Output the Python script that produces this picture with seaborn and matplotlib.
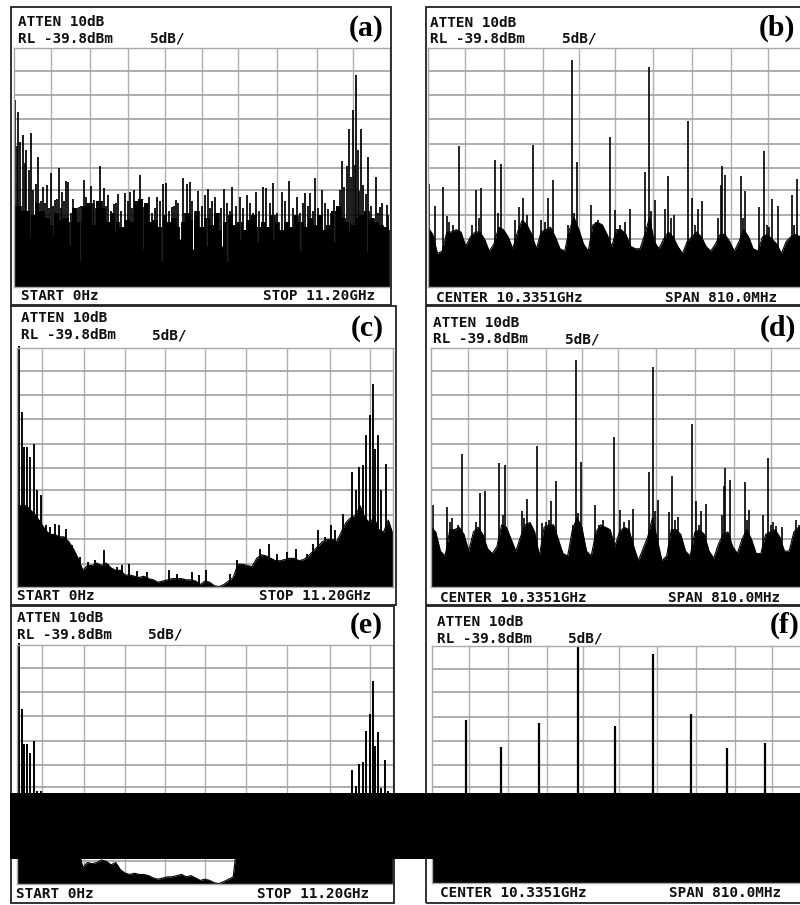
import numpy as np
import pandas as pd
import matplotlib
matplotlib.use("Agg")
import matplotlib.pyplot as plt
from matplotlib.patches import Rectangle
import seaborn as sns

# ---- trace data, x and level both in screen divisions (10 x 10, 5 dB/div) ----

# panel (a)
a_x = [0.04, 0.12, 0.18, 0.25, 0.34, 0.46, 0.53, 0.66, 0.78, 0.88, 1.0, 1.11, 1.21, 1.30, 1.40, 1.46, 1.58, 1.73, 1.86, 1.93,
       2.05, 2.14, 2.30, 2.41, 2.52, 2.67, 2.77, 2.96, 3.10, 3.20, 3.36, 3.47, 3.61, 3.81, 3.98, 4.05, 4.20, 4.31, 4.50, 4.60,
       4.69, 4.91, 5.09, 5.16, 5.35, 5.59, 5.81, 6.02, 6.19, 6.44, 6.64, 6.71, 6.90, 7.12, 7.33, 7.52, 7.74, 7.88, 8.01, 8.19,
       8.36, 8.50, 8.67, 8.72, 8.85, 8.92, 9.01, 9.10, 9.14, 9.22, 9.29, 9.42, 9.62, 9.73, 9.91,
       0.10, 0.30, 0.40, 0.60, 0.72, 0.83, 0.95, 1.06, 1.16, 1.26, 1.35, 1.52, 1.65, 1.80, 1.99, 2.10, 2.20, 2.35, 2.46, 2.58,
       2.72, 2.85, 3.03, 3.15, 3.28, 3.42, 3.54, 3.68, 3.75, 3.90, 4.12, 4.25, 4.38, 4.55, 4.75, 4.83, 5.00, 5.22, 5.28, 5.45,
       5.52, 5.68, 5.75, 5.90, 6.10, 6.27, 6.35, 6.52, 6.80, 7.00, 7.22, 7.42, 7.60, 7.68, 7.82, 7.95, 8.10, 8.28, 8.43, 8.58,
       8.78, 8.97, 9.06, 9.18, 9.35, 9.50, 9.68, 9.80, 9.96]
a_y = [7.81, 7.32, 6.07, 6.35, 5.72, 6.46, 4.04, 5.44, 4.18, 4.25, 4.78, 3.63, 4.98, 3.97, 4.42, 4.39, 3.70, 3.35, 4.49, 3.77,
       4.21, 3.63, 5.06, 4.16, 3.84, 3.49, 3.91, 3.93, 3.97, 4.07, 4.70, 3.35, 3.77, 3.77, 4.32, 4.35, 3.35, 3.63, 4.57, 4.32,
       4.39, 4.02, 3.84, 4.11, 3.77, 4.11, 4.18, 3.77, 3.84, 3.97, 4.18, 4.16, 4.35, 3.97, 4.42, 3.77, 3.93, 3.93, 4.56, 4.04,
       3.28, 3.63, 4.04, 5.26, 5.06, 6.62, 7.42, 8.86, 5.72, 6.62, 4.25, 5.44, 4.60, 3.35, 3.42,
       5.9, 5.2, 4.9, 4.3, 3.6, 3.5, 3.3, 3.4, 3.7, 3.3, 3.6, 3.1, 3.2, 3.4, 3.3, 3.5, 3.3, 3.6, 3.4, 3.2,
       3.5, 3.2, 3.6, 3.3, 3.1, 3.4, 3.5, 3.1, 3.3, 3.6, 3.2, 3.4, 3.5, 3.1, 3.6, 3.2, 3.4, 3.3, 3.6, 3.1,
       3.3, 3.5, 3.2, 3.4, 3.3, 3.5, 3.1, 3.2, 3.5, 3.1, 3.6, 3.3, 3.1, 3.5, 3.4, 3.2, 3.3, 3.5, 3.1, 3.4,
       4.2, 4.6, 5.1, 4.0, 3.9, 3.4, 3.1, 3.5, 3.0]
a_floor = [3.4, 3.4, 3.2, 3.2, 3.0, 3.5, 3.2, 2.9, 2.6, 3.1, 2.8, 2.9, 2.7, 3.3, 2.7, 3.4, 3.5, 2.6, 3.6, 3.3,
           2.7, 3.1, 2.7, 2.5, 2.8, 2.7, 3.6, 3.7, 3.5, 2.7, 2.8, 2.5, 3.0, 2.7, 2.9, 2.5, 2.7, 3.1, 2.8, 3.2,
           2.5, 2.9, 2.6, 3.1, 2.4, 2.7, 3.0, 2.6, 2.7, 2.4, 2.8, 3.0, 2.5, 2.7, 2.5, 3.0, 2.7, 2.4, 2.7, 2.5,
           3.0, 2.7, 2.5, 2.9, 2.6, 3.0, 2.4, 2.6, 3.2, 3.4, 2.9, 2.7, 2.6, 2.9, 3.0, 3.2, 2.9, 2.7, 2.6, 2.5, 2.4]
# narrow white slivers that reach down into the trace in (a)
a_dip_x = [0.44, 1.06, 1.49, 1.77, 2.70, 3.45, 3.94, 4.42, 4.78, 5.13, 5.53, 5.66, 6.02, 6.50, 6.90, 7.61, 8.50, 8.90, 9.38]
a_dip_y = [2.1, 2.2, 1.75, 1.1, 2.3, 1.6, 1.1, 2.0, 1.6, 1.7, 1.7, 1.1, 2.0, 1.9, 2.0, 1.5, 1.9, 2.3, 1.5]

# panel (b)
b_x = [0.03, 0.19, 0.40, 0.51, 0.81, 1.28, 1.40, 1.78, 1.93, 2.30, 2.42, 2.53, 2.79, 3.01, 3.17, 3.31, 3.81, 3.94, 4.32, 4.83,
       4.97, 5.35, 5.75, 5.87, 6.02, 6.28, 6.37, 6.52, 6.89, 7.01, 7.15, 7.28, 7.76, 7.79, 7.89, 8.29, 8.42, 8.79, 8.90, 9.13,
       9.29, 9.65, 9.80,
       0.56, 0.66, 1.18, 1.34, 1.86, 2.62, 3.10, 3.72, 3.87, 4.45, 4.52, 4.60, 5.10, 5.22, 5.92, 6.45, 7.08, 7.70, 8.35, 8.98, 9.05, 9.72]
b_y = [4.31, 3.38, 4.18, 2.96, 5.89, 4.04, 4.14, 5.33, 5.15, 2.82, 3.35, 3.72, 5.96, 2.82, 3.72, 4.46, 9.51, 5.23, 3.44, 6.26,
       3.24, 3.26, 4.81, 9.21, 3.65, 3.28, 4.66, 3.0, 6.93, 3.72, 3.28, 3.58, 4.28, 5.08, 4.70, 4.63, 4.03, 3.33, 5.70, 3.70,
       3.38, 3.86, 4.53,
       2.7, 2.6, 2.6, 2.9, 3.1, 3.0, 2.7, 2.6, 3.1, 2.7, 2.8, 2.6, 2.6, 2.7, 3.2, 2.9, 2.6, 2.9, 2.9, 2.6, 2.5, 2.6]
b_floor = [2.5, 2.2, 1.4, 1.5, 2.3, 2.3, 2.4, 2.3, 1.7, 2.1, 2.3, 2.3, 2.0, 1.5, 1.8, 2.5, 2.4, 2.1, 1.6, 2.3,
           2.8, 2.6, 2.2, 1.6, 2.3, 2.4, 2.5, 2.1, 1.6, 1.5, 2.4, 2.9, 2.4, 1.8, 1.5, 2.6, 2.7, 2.6, 2.2, 1.7,
           2.4, 2.4, 2.2, 1.7, 1.6, 1.6, 2.2, 2.9, 1.9, 1.6, 2.0, 2.3, 2.1, 1.7, 1.4, 1.9, 2.1, 2.3, 2.1, 1.7,
           1.5, 1.8, 2.2, 2.2, 1.9, 1.5, 1.9, 2.4, 2.1, 1.6, 1.5, 2.1, 2.2, 2.0, 1.8, 1.4, 1.9, 2.1, 2.2, 2.1, 2.0]

# panel (c)
c_x = [0.06, 0.12, 0.19, 0.27, 0.34, 0.46, 0.53, 0.64, 0.77, 0.88, 1.02, 1.13, 1.30, 1.46, 1.68, 1.88, 2.08, 2.32, 2.43, 2.65,
       2.79, 2.99, 3.19, 3.45, 4.04, 4.25, 4.65, 4.84, 5.02, 5.66, 5.86, 6.46, 6.71, 6.92, 7.17, 7.43, 7.70, 7.88, 8.01, 8.19,
       8.36, 8.45, 8.67, 8.91, 9.01, 9.09, 9.19, 9.29, 9.38, 9.47, 9.52, 9.60, 9.69, 9.81, 9.93]
c_y = [10.1, 7.32, 5.86, 5.86, 5.44, 6.0, 4.04, 3.84, 2.58, 2.51, 2.62, 2.58, 2.44, 1.74, 1.26, 1.05, 1.14, 1.53, 0.98, 0.84,
       0.91, 0.98, 0.67, 0.63, 0.70, 0.56, 0.63, 0.49, 0.70, 0.56, 1.14, 1.60, 1.81, 1.39, 1.46, 1.60, 1.39, 1.81, 2.37, 2.09,
       2.58, 2.37, 3.07, 4.81, 4.04, 5.02, 5.09, 6.37, 7.18, 8.51, 5.79, 6.35, 4.04, 5.16, 2.44]
c_floor = [3.4, 3.4, 3.4, 3.2, 3.0, 2.7, 2.4, 2.2, 2.2, 2.1, 2.1, 1.9, 1.6, 1.2, 0.7, 0.9, 0.9, 1.0, 0.9, 1.0,
           0.8, 0.7, 0.7, 0.5, 0.5, 0.45, 0.4, 0.45, 0.35, 0.3, 0.2, 0.25, 0.3, 0.35, 0.35, 0.35, 0.3, 0.3, 0.25, 0.1,
           0.25, 0.2, 0.05, 0.02, 0.1, 0.25, 0.4, 0.95, 0.95, 0.9, 0.85, 1.2, 1.35, 1.3, 1.2, 1.1, 1.1, 1.15, 1.2, 1.2,
           1.1, 1.15, 1.3, 1.5, 1.7, 1.9, 2.0, 2.0, 1.9, 2.3, 2.7, 2.9, 3.0, 3.4, 2.9, 2.7, 2.9, 2.4, 2.3, 2.8, 2.2]

# panel (d)
d_x = [0.04, 0.42, 0.82, 1.30, 1.42, 1.81, 1.96, 2.42, 2.55, 2.81, 2.94, 3.19, 3.32, 3.84, 3.97, 4.34, 4.85, 5.00, 5.37, 5.77,
       5.88, 6.02, 6.30, 6.40, 6.54, 6.91, 7.03, 7.16, 7.29, 7.77, 7.81, 7.92, 8.32, 8.43, 8.81, 8.93, 9.16, 9.31, 9.68,
       0.50, 0.56, 0.72, 1.20, 1.90, 2.48, 3.05, 3.12, 3.76, 3.90, 4.45, 4.55, 5.12, 5.25, 5.95, 6.48, 7.10, 7.72, 8.38, 9.02, 9.08, 9.75]
d_y = [3.42, 3.35, 5.56, 3.93, 4.03, 5.19, 5.12, 3.17, 3.70, 5.89, 2.68, 3.58, 4.45, 9.50, 5.23, 3.44, 6.26, 3.21, 3.26, 4.81,
       9.21, 3.63, 3.14, 4.63, 2.93, 6.82, 3.58, 3.17, 3.47, 4.24, 4.98, 4.49, 4.39, 3.24, 3.03, 5.40, 2.54, 2.51, 2.82,
       2.7, 2.9, 2.6, 2.7, 3.0, 2.9, 2.7, 2.8, 2.6, 3.1, 2.6, 2.8, 2.7, 2.8, 3.2, 2.8, 2.6, 3.0, 2.8, 2.6, 2.7, 2.6]
d_floor = [2.5, 2.3, 1.5, 1.3, 2.4, 2.4, 2.5, 2.2, 1.5, 2.3, 2.5, 2.2, 1.6, 1.4, 1.7, 2.6, 2.5, 2.0, 1.5, 2.1,
           2.6, 2.7, 2.3, 1.3, 2.5, 2.6, 2.6, 2.0, 1.4, 1.3, 2.4, 2.9, 2.5, 1.5, 1.3, 2.3, 2.6, 2.5, 2.4, 1.7,
           2.3, 2.5, 2.4, 1.7, 1.1, 1.6, 2.1, 2.9, 2.0, 1.1, 1.3, 2.4, 2.4, 2.2, 1.5, 1.3, 2.3, 2.4, 2.2, 1.5,
           1.2, 1.8, 2.2, 2.3, 1.7, 1.4, 2.0, 2.4, 2.0, 1.4, 1.4, 2.2, 2.3, 2.4, 2.1, 1.5, 1.5, 2.3, 2.5, 2.4, 2.3]

# panel (e)
e_x = [0.02, 0.06, 0.12, 0.19, 0.27, 0.34, 0.46, 0.53, 0.64, 8.92, 9.01, 9.09, 9.20, 9.29, 9.38, 9.47, 9.52, 9.59, 9.69, 9.80, 9.87]
e_y = [7.36, 10.08, 7.32, 5.86, 5.86, 5.48, 5.99, 3.9, 3.9, 4.78, 4.08, 5.04, 5.09, 6.39, 7.11, 8.48, 5.76, 6.36, 4.0, 5.17, 3.9]
e_floor = [2.5, 2.5, 2.5, 2.5, 2.5, 2.5, 2.5, 2.5, 2.5, 2.5, 2.5, 2.5, 2.0, 1.5, 0.7, 0.9, 0.85, 0.9, 1.0, 0.95,
           0.8, 0.9, 0.6, 0.45, 0.4, 0.45, 0.4, 0.4, 0.35, 0.25, 0.2, 0.25, 0.3, 0.3, 0.35, 0.4, 0.3, 0.35, 0.25, 0.15,
           0.2, 0.15, 0.05, 0.02, 0.1, 0.2, 0.3, 2.0, 2.0, 2.0, 2.0, 2.0, 2.0, 2.0, 2.0, 2.0, 2.0, 2.0, 2.0, 2.0,
           2.0, 2.0, 2.0, 2.0, 2.0, 2.0, 2.0, 2.0, 2.0, 2.0, 2.0, 2.0, 2.5, 2.5, 2.5, 2.5, 2.5, 2.5, 2.5, 2.5, 2.5]

# panel (f)
f_x = [0.90, 1.83, 2.85, 3.86, 4.85, 5.86, 6.86, 7.83, 8.83]
f_y = [6.87, 5.75, 6.73, 10.0, 6.62, 9.65, 7.14, 5.68, 5.89]
f_floor = [2.0, 2.0, 2.0, 2.0, 2.0, 2.0, 2.0, 2.0, 2.0, 2.0, 2.0]

# graticule lines as they sit on the (slightly bent) screen
grid_a = [1.0, 2.02, 3.05, 4.03, 5.0, 5.97, 7.0, 8.05, 9.03]
grid_ce = [0.66, 1.77, 2.88, 3.94, 5.0, 6.08, 7.19, 8.32, 9.38]
grid_bdf = [0.97, 2.01, 3.04, 4.01, 4.96, 5.97, 6.99, 8.03, 9.01]
grid_h = [0.98, 2.02, 3.03, 4.04, 4.99, 6.0, 7.02, 8.05, 9.04]

W, H = 800, 905

sns.set_theme(style="white")

fig = plt.figure(figsize=(W / 100, H / 100), dpi=100, facecolor="white")


def draw_panel(box, frame, xs, ys, floor, grid_x, lw, labels, letter, letter_pos, dips=None):
    # box and frame are left, right, top, bottom in pixels
    l, r, t, b = box
    ax = fig.add_axes([l / W, 1 - b / H, (r - l) / W, (b - t) / H])
    ax.set_xlim(0, 10)
    ax.set_ylim(0, 10)
    ax.set_facecolor("white")
    ax.set_xticks(grid_x)
    ax.set_yticks(grid_h)
    ax.tick_params(length=0, labelbottom=False, labelleft=False)
    ax.grid(True, axis="x", color="#b0b0b0", lw=1.0)
    ax.grid(True, axis="y", color="#a0a0a0", lw=1.2)
    ax.set_axisbelow(True)
    for s in ax.spines.values():
        s.set_color("#a8a8a8")
        s.set_linewidth(1.0)

    trace = pd.DataFrame({"x": np.linspace(0, 10, len(floor)), "y": floor})
    if dips is None:
        ax.fill_between(trace["x"], 0, trace["y"], color="black", lw=0)
        sns.lineplot(data=trace, x="x", y="y", estimator=None, color="black", lw=0.8, ax=ax, legend=False)
    else:
        ax.fill_between(trace["x"], 0, trace["y"], step="mid", color="black", lw=0)
        sns.lineplot(data=trace, x="x", y="y", drawstyle="steps-mid", estimator=None,
                     color="black", lw=0.6, ax=ax, legend=False)
        ax.vlines(dips[0], dips[1], 3.7, color="white", lw=0.8)
    ax.vlines(xs, 0, ys, color="black", lw=lw, clip_on=False)
    ax.set_xlabel("")
    ax.set_ylabel("")

    fl, fr, ft, fb = frame
    fig.add_artist(Rectangle((fl / W, 1 - fb / H), (fr - fl) / W, (fb - ft) / H,
                             transform=fig.transFigure, fill=False, ec="#222222", lw=1.3))
    for txt, px, py in labels:
        fig.text(px / W, 1 - py / H, txt, family="DejaVu Sans Mono", weight="bold",
                 fontsize=10.4, color="#111111", ha="left", va="center")
    fig.text(letter_pos[0] / W, 1 - letter_pos[1] / H, letter, family="Liberation Serif",
             weight="bold", fontsize=21.5, color="black", ha="center", va="center")


draw_panel((13.5, 390, 48, 287), (11, 391, 7, 305), a_x, a_y, a_floor, grid_a, 1.25,
           [("ATTEN 10dB", 18, 22), ("RL -39.8dBm", 18, 39), ("5dB/", 150, 39),
            ("START 0Hz", 21, 296), ("STOP 11.20GHz", 263, 296)], "(a)", (366, 28),
           dips=(a_dip_x, a_dip_y))
draw_panel((428, 805, 48, 287), (426, 815, 7, 305), b_x, b_y, b_floor, grid_bdf, 1.2,
           [("ATTEN 10dB", 430, 23), ("RL -39.8dBm", 430, 39), ("5dB/", 562, 39),
            ("CENTER 10.3351GHz", 436, 298), ("SPAN 810.0MHz", 665, 298)], "(b)", (777, 28))
draw_panel((17, 393, 348, 587), (11, 396, 306, 605), c_x, c_y, c_floor, grid_ce, 1.35,
           [("ATTEN 10dB", 21, 318), ("RL -39.8dBm", 21, 335), ("5dB/", 152, 335),
            ("START 0Hz", 17, 596), ("STOP 11.20GHz", 259, 596)], "(c)", (367, 328))
draw_panel((431, 808, 348, 587), (426, 815, 306, 605), d_x, d_y, d_floor, grid_bdf, 1.2,
           [("ATTEN 10dB", 433, 323), ("RL -39.8dBm", 433, 339), ("5dB/", 565, 339),
            ("CENTER 10.3351GHz", 440, 598), ("SPAN 810.0MHz", 668, 598)], "(d)", (778, 328))
draw_panel((17, 393, 645, 884), (11, 394, 606, 903), e_x, e_y, e_floor, grid_ce, 1.4,
           [("ATTEN 10dB", 17, 618), ("RL -39.8dBm", 17, 635), ("5dB/", 148, 635),
            ("START 0Hz", 16, 894), ("STOP 11.20GHz", 257, 894)], "(e)", (366, 625))
draw_panel((432, 809, 646, 883), (426, 815, 606, 903), f_x, f_y, f_floor, grid_bdf, 1.6,
           [("ATTEN 10dB", 437, 622), ("RL -39.8dBm", 437, 639), ("5dB/", 568, 639),
            ("CENTER 10.3351GHz", 440, 893), ("SPAN 810.0MHz", 669, 893)], "(f)", (785, 625))

# the solid black band that runs across the bottom row of the scan
fig.add_artist(Rectangle((10 / W, 1 - 859 / H), 790 / W, 66 / H, transform=fig.transFigure,
                         color="black", lw=0, zorder=10))

fig.savefig("out.png", dpi=100, facecolor="white")
